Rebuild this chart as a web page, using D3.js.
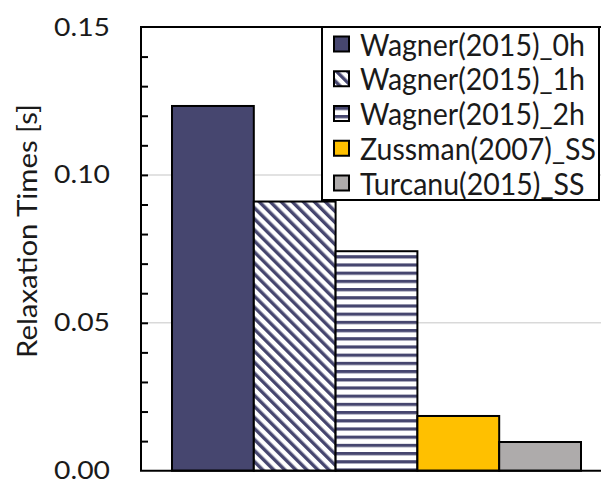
<!DOCTYPE html>
<html>
<head>
<meta charset="utf-8">
<script src="https://cdn.jsdelivr.net/npm/d3@7/dist/d3.min.js"></script>
<style>
  html, body { margin: 0; padding: 0; background: #fff; }
  svg { display: block; }
  text { font-family: Lato, "Open Sans", sans-serif; fill: #1a1a1a; }
</style>
</head>
<body>
<svg id="chart" width="601" height="481"></svg>
<script>
// ---- data ----
const series = ["Wagner(2015)_0h", "Wagner(2015)_1h", "Wagner(2015)_2h", "Zussman(2007)_SS", "Turcanu(2015)_SS"];
const values = [0.1233, 0.0910, 0.0742, 0.0185, 0.0097];
const yTicks = [0.00, 0.05, 0.10, 0.15];
const yTickLabels = ["0.00", "0.05", "0.10", "0.15"];
const yMinorTicks = d3.range(1, 15).map(i => i / 100);
const yTitle = "Relaxation Times [s]";

// ---- styles ----
const navy = "#46466f";
const fills = [navy, "url(#hatchDiag)", "url(#hatchHoriz)", "#ffc000", "#aeabab"];

const svg = d3.select("#chart");
const plot = { left: 141, right: 612, top: 27, bottom: 470.7 };

const y = d3.scaleLinear().domain([0, 0.15]).range([plot.bottom, plot.top]);
const x = d3.scaleBand().domain(series).range([plot.left, plot.right])
  .paddingInner(0).paddingOuter(0.379);

// patterns
const defs = svg.append("defs");
const pd = defs.append("pattern").attr("id", "hatchDiag")
  .attr("patternUnits", "userSpaceOnUse").attr("width", 7.8).attr("height", 7.8)
  .attr("patternTransform", "rotate(-45)");
pd.append("rect").attr("width", 7.8).attr("height", 7.8).attr("fill", "#fff");
pd.append("rect").attr("x", 0).attr("width", 3.4).attr("height", 7.8).attr("fill", navy);

const ph = defs.append("pattern").attr("id", "hatchHoriz")
  .attr("patternUnits", "userSpaceOnUse").attr("width", 8).attr("height", 8.2)
  .attr("y", y(0.0742) + 4);
ph.append("rect").attr("width", 8).attr("height", 8.2).attr("fill", "#fff");
ph.append("rect").attr("y", 0).attr("width", 8).attr("height", 3.2).attr("fill", navy);

// gridlines
svg.append("g").selectAll("line").data([0.05, 0.10]).join("line")
  .attr("x1", plot.left).attr("x2", 601)
  .attr("y1", d => y(d)).attr("y2", d => y(d))
  .attr("stroke", "#d9d9d9").attr("stroke-width", 1.5);

// bars
svg.append("g").selectAll("rect").data(series).join("rect")
  .attr("x", d => x(d))
  .attr("y", (d, i) => y(values[i]))
  .attr("width", x.bandwidth())
  .attr("height", (d, i) => y(0) - y(values[i]))
  .attr("fill", (d, i) => fills[i])
  .attr("stroke", "#000").attr("stroke-width", 2);

// y axis with inward ticks
const yAxisMinor = d3.axisRight(y).tickValues(yMinorTicks).tickSize(7).tickFormat("");
const gMinor = svg.append("g").attr("transform", `translate(${plot.left},0)`).call(yAxisMinor);
gMinor.select(".domain").remove();
gMinor.selectAll(".tick line").attr("stroke", "#000").attr("stroke-width", 2);

const yAxis = d3.axisLeft(y).tickValues(yTicks).tickSize(0).tickPadding(31)
  .tickFormat((d, i) => yTickLabels[i]);
const gY = svg.append("g").attr("transform", `translate(${plot.left},0)`).call(yAxis);
gY.select(".domain").remove();
gY.selectAll(".tick text").attr("font-family", "Lato, 'Open Sans', sans-serif")
  .attr("font-size", 25).attr("fill", "#1a1a1a")
  .each(function () {
    const w = this.getComputedTextLength();
    const f = 56 / w;
    d3.select(this).attr("transform", `translate(-31,0) scale(${f},1) translate(31,0)`);
  });

// frame lines
svg.append("line").attr("x1", plot.left).attr("x2", plot.left)
  .attr("y1", plot.top).attr("y2", plot.bottom).attr("stroke", "#000").attr("stroke-width", 2);
svg.append("line").attr("x1", plot.left - 1).attr("x2", 601)
  .attr("y1", plot.top).attr("y2", plot.top).attr("stroke", "#000").attr("stroke-width", 2);
svg.append("line").attr("x1", plot.left - 1).attr("x2", 601)
  .attr("y1", plot.bottom).attr("y2", plot.bottom).attr("stroke", "#000").attr("stroke-width", 2);

// y title
const yt = svg.append("text")
  .attr("text-anchor", "middle")
  .attr("font-size", 26)
  .attr("fill", "#262626")
  .text(yTitle);
{
  const w = yt.node().getComputedTextLength();
  yt.attr("transform", `translate(37,231) rotate(-90) scale(${254 / w},1)`);
}

// legend
const leg = svg.append("g");
leg.append("rect").attr("x", 322).attr("y", 27).attr("width", 277).attr("height", 173)
  .attr("fill", "#fff").attr("stroke", "#000").attr("stroke-width", 2);
const rows = leg.selectAll("g.row").data(series).join("g").attr("class", "row")
  .attr("transform", (d, i) => `translate(0,${44.5 + i * 34.75})`);
rows.append("rect").attr("x", 334).attr("y", -8).attr("width", 15).attr("height", 15)
  .attr("fill", (d, i) => fills[i]).attr("stroke", "#000").attr("stroke-width", 2);
const lt = rows.append("text").attr("x", 0).attr("y", 0).attr("dy", "0.36em")
  .attr("font-size", 31).text(d => d);
const widths = lt.nodes().map(n => n.getComputedTextLength());
const f0 = Math.min(232 / widths[0], 236 / d3.max(widths));
lt.attr("transform", `translate(360,0) scale(${f0},1)`);
</script>
</body>
</html>
